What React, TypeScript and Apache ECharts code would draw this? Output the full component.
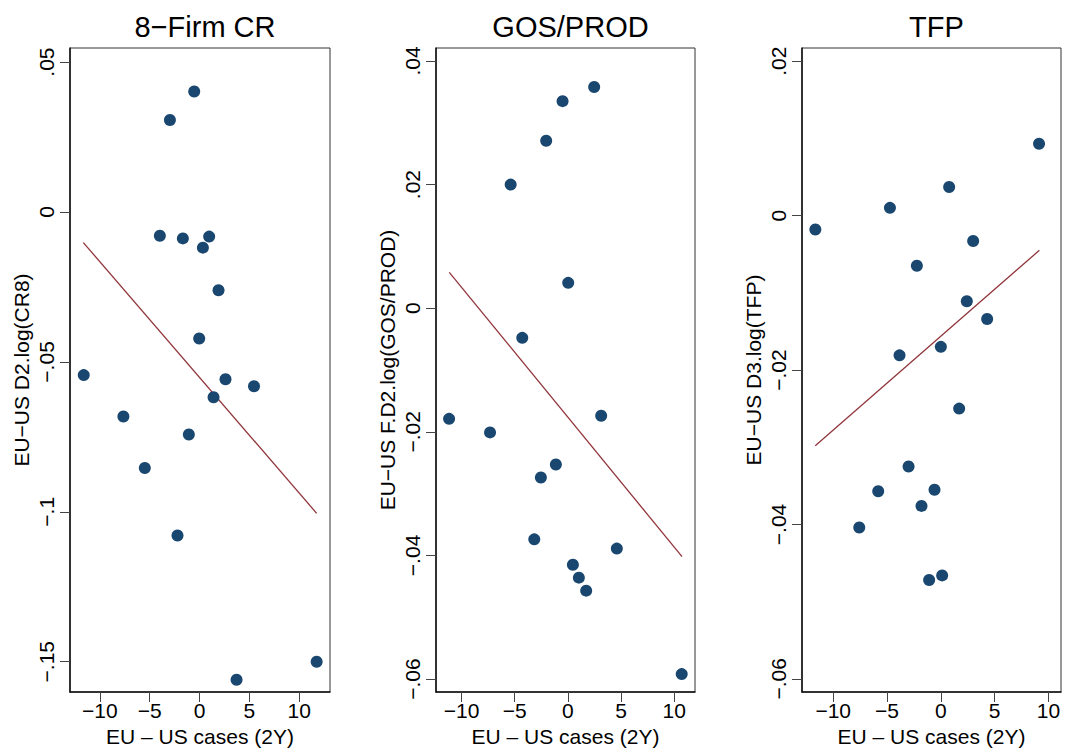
import React, { useEffect, useRef } from "react";
import * as echarts from "echarts";

// Panel titles and axis names
const titles = ["8−Firm CR", "GOS/PROD", "TFP"];
const yNames = ["EU−US D2.log(CR8)", "EU−US F.D2.log(GOS/PROD)", "EU−US D3.log(TFP)"];
const xName = "EU – US cases (2Y)";

// Tick labels
const xTicks = [-10, -5, 0, 5, 10];
const yTicks1 = [0.05, 0, -0.05, -0.1, -0.15];
const yTicks2 = [0.04, 0.02, 0, -0.02, -0.04, -0.06];
const yTicks3 = [0.02, 0, -0.02, -0.04, -0.06];

// Panel 1: 8-Firm CR
const x1 = [-0.53, -2.97, -3.98, -1.67, 0.97, 0.34, 1.91, -0.03, -11.62, 2.61, 5.47, 1.41, -7.64, -1.07, -5.49, -2.21, 11.76, 3.72];
const y1 = [0.0402, 0.0307, -0.0079, -0.0088, -0.0082, -0.0119, -0.0261, -0.0422, -0.0544, -0.0558, -0.0581, -0.0618, -0.0682, -0.0742, -0.0854, -0.1079, -0.150, -0.156];
const fit1X = [-11.66, 11.76];
const fit1Y = [-0.0102, -0.1005];

// Panel 2: GOS/PROD
const x2 = [2.47, -0.5, -2.04, -5.38, 0.03, -4.29, -11.17, -7.32, 3.13, -1.13, -2.54, -3.16, 4.6, 0.47, 1.03, 1.72, 10.7];
const y2 = [0.0358, 0.0335, 0.0271, 0.0200, 0.0041, -0.0048, -0.0179, -0.0201, -0.0174, -0.0253, -0.0274, -0.0374, -0.0389, -0.0415, -0.0436, -0.0457, -0.0592];
const fit2X = [-11.15, 10.73];
const fit2Y = [0.0058, -0.0402];

// Panel 3: TFP
const x3 = [9.12, 0.77, -4.73, -11.66, 3.0, -2.23, 2.41, 4.3, 0.0, -3.84, 1.7, -3.0, -5.82, -0.59, -1.8, -7.58, 0.12, -1.09];
const y3 = [0.0093, 0.0037, 0.001, -0.0018, -0.0033, -0.0065, -0.0111, -0.0134, -0.017, -0.0181, -0.025, -0.0325, -0.0357, -0.0355, -0.0376, -0.0404, -0.0466, -0.0472];
const fit3X = [-11.67, 9.15];
const fit3Y = [-0.0298, -0.0045];

// Axis ranges
const xRanges = [[-13.0, 13.1], [-12.4, 11.95], [-12.9, 11.16]];
const yRanges = [[-0.1601, 0.0547], [-0.0621, 0.0421], [-0.0617, 0.0217]];

const FONT = "'Liberation Sans', Arial, Helvetica, sans-serif";
const NAVY = "#1a476f";
const MAROON = "#90353b";

const fmt = (v: number) => {
  if (Math.abs(v) < 1e-12) return "0";
  const s = String(Math.abs(v)).replace(/^0\./, ".");
  return (v < 0 ? "−" : "") + s;
};

export default function App() {
  const ref = useRef<HTMLDivElement>(null);
  useEffect(() => {
    if (!ref.current) return;
    const chart = echarts.init(ref.current, null, { renderer: "svg" });
    const grids = [
      { left: 70, top: 48, width: 260, height: 644 },
      { left: 436, top: 48, width: 259, height: 644 },
      { left: 802, top: 48, width: 259, height: 644 },
    ];
    const xs = [x1, x2, x3];
    const ys = [y1, y2, y3];
    const fx = [fit1X, fit2X, fit3X];
    const fy = [fit1Y, fit2Y, fit3Y];
    const yt = [yTicks1, yTicks2, yTicks3];

    const option: any = {
      animation: false,
      backgroundColor: "#ffffff",
      title: grids.map((g, i) => ({
        text: titles[i],
        left: g.left + g.width / 2,
        top: 7,
        textAlign: "center",
        textStyle: { fontFamily: FONT, fontSize: 29, fontWeight: "normal", color: "#000" },
      })),
      grid: grids.map((g) => ({
        ...g,
        show: true,
        borderColor: "#333",
        borderWidth: 1,
        backgroundColor: "#fff",
        containLabel: false,
      })),
      xAxis: grids.map((g, i) => ({
        type: "value",
        gridIndex: i,
        min: xRanges[i][0],
        max: xRanges[i][1],
        name: xName,
        nameLocation: "middle",
        nameGap: 34,
        nameTextStyle: { fontFamily: FONT, fontSize: 21, color: "#000" },
        axisLine: { show: true, onZero: false, lineStyle: { color: "#111", width: 1.5 } },
        axisTick: { show: true, length: 10, lineStyle: { color: "#444", width: 1 }, customValues: xTicks },
        axisLabel: { fontFamily: FONT, fontSize: 21, color: "#000", margin: 8, formatter: fmt, customValues: xTicks },
        splitLine: { show: false },
      })),
      yAxis: grids.map((g, i) => ({
        type: "value",
        gridIndex: i,
        min: yRanges[i][0],
        max: yRanges[i][1],
        name: yNames[i],
        nameLocation: "middle",
        nameGap: 38,
        nameTextStyle: { fontFamily: FONT, fontSize: 21, color: "#000" },
        axisLine: { show: true, onZero: false, lineStyle: { color: "#111", width: 1.5 } },
        axisTick: { show: true, length: 10, lineStyle: { color: "#444", width: 1 }, customValues: yt[i] },
        axisLabel: { fontFamily: FONT, fontSize: 21, color: "#000", margin: 13, rotate: 90, formatter: fmt, customValues: yt[i] },
        splitLine: { show: false },
      })),
      series: [
        ...grids.map((g, i) => ({
          type: "line",
          xAxisIndex: i,
          yAxisIndex: i,
          data: fx[i].map((v, k) => [v, fy[i][k]]),
          showSymbol: false,
          symbol: "none",
          lineStyle: { color: MAROON, width: 1.3 },
          z: 2,
        })),
        ...grids.map((g, i) => ({
          type: "scatter",
          xAxisIndex: i,
          yAxisIndex: i,
          data: xs[i].map((v, k) => [v, ys[i][k]]),
          symbol: "circle",
          symbolSize: 12,
          itemStyle: { color: NAVY, opacity: 1 },
          z: 3,
        })),
      ],
    };
    chart.setOption(option);
    return () => chart.dispose();
  }, []);
  return (
    <div
      ref={ref}
      style={{ position: "fixed", left: 0, top: 0, width: 1065, height: 756, background: "#fff" }}
    />
  );
}
